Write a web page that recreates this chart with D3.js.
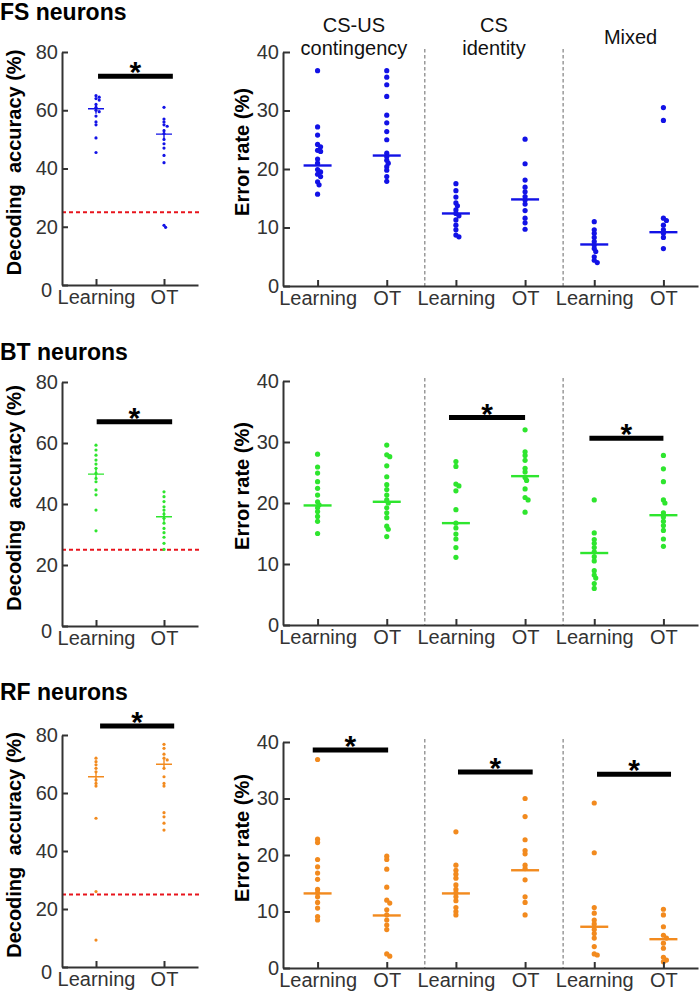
<!DOCTYPE html>
<html>
<head>
<meta charset="utf-8">
<script src="https://cdn.jsdelivr.net/npm/d3@7"></script>
<style>
  body { margin: 0; background: #fff; }
</style>
</head>
<body>
<svg id="chart" width="699" height="999"></svg>
<script>
// --- DATA ---
const conditions = ['Learning', 'OT'];
const groupTitles = [['CS-US', 'contingency'], ['CS', 'identity'], ['Mixed']];
const decodingTicks = [0, 20, 40, 60, 80];
const errorTicks = [0, 10, 20, 30, 40];
const chanceLevel = 25;
const dividers = [2.55, 4.55];

// FS neurons
const fsDecLearning = [65, 64.5, 64, 63.5, 62, 61, 60, 59.5, 58, 56, 55, 50.5, 45.5];
const fsDecOT = [61, 57, 56, 55, 54.5, 53, 52, 50, 48.5, 47, 44.5, 42, 20.5, 19.8];
const fsDecCenter = [60.5, 51.8];
const fsDecSig = [1.03, 2.13, 71.7];
const fsErrCsUs = [
  [36.8, 27.2, 25.8, 24.2, 23.8, 23.2, 23.0, 21.7, 21.0, 19.9, 19.5, 19.1, 18.7, 17.8, 17.3, 15.7],
  [36.8, 35.7, 34.4, 32.4, 29.2, 27.9, 26.4, 25.0, 22.7, 22.1, 21.5, 21.0, 20.4, 19.8, 18.7, 17.9]];
const fsErrIdentity = [
  [17.5, 16.3, 15.2, 14.2, 13.7, 13.0, 12.4, 12.0, 11.3, 10.4, 9.6, 8.7, 8.4],
  [25.1, 20.9, 18.1, 16.9, 16.1, 15.3, 14.7, 14.0, 12.9, 11.6, 10.8, 9.7]];
const fsErrMixed = [
  [11.0, 9.6, 9.0, 8.3, 7.6, 7.0, 6.4, 5.9, 5.0, 4.4, 4.0],
  [30.5, 28.3, 11.6, 11.2, 10.4, 9.6, 9.0, 8.3, 6.4]];
const fsErrCenter = [[20.6, 22.3], [12.4, 14.8], [7.1, 9.2]];
const fsErrSig = [];

// BT neurons
const btDecLearning = [59.3, 57.7, 56, 54.4, 53.1, 51.7, 50.1, 48.4, 47.3, 44.6, 43, 38, 31.2];
const btDecOT = [44, 42.4, 40.8, 39.1, 38, 36.7, 35.3, 33.7, 32, 30.6, 29.1, 27.1, 25.1];
const btDecCenter = [49.8, 35.8];
const btDecSig = [1.01, 2.12, 67];
const btErrCsUs = [
  [28.0, 25.9, 24.9, 23.5, 22.4, 21.3, 20.2, 19.7, 19.2, 18.6, 17.8, 17.0, 15.0],
  [29.5, 27.9, 27.6, 26.1, 24.3, 23.0, 22.2, 21.3, 20.5, 20.0, 19.2, 18.4, 17.6, 16.2, 15.7, 14.5]];
const btErrIdentity = [
  [26.8, 26.0, 23.1, 22.8, 22.0, 18.9, 16.7, 15.9, 14.9, 14.1, 12.7, 11.1],
  [32.0, 28.4, 27.8, 27.0, 25.7, 25.1, 24.2, 23.7, 22.3, 20.9, 20.5, 18.5]];
const btErrMixed = [
  [20.5, 15.1, 14.0, 13.4, 12.7, 12.0, 11.2, 10.5, 8.9, 8.2, 7.7, 6.8, 6.0],
  [27.8, 25.6, 23.5, 20.5, 20.0, 18.4, 17.7, 17.0, 16.3, 15.5, 14.1, 12.9]];
const btErrCenter = [[19.6, 20.2], [16.7, 24.4], [11.8, 18.0]];
const btErrSig = [[2.9, 4.0, 34.0], [4.93, 6.0, 30.6]];

// RF neurons
const rfDecLearning = [72, 70.8, 69.7, 68.5, 67.3, 64.5, 63.3, 62.4, 51.3, 26, 9.3];
const rfDecOT = [76.8, 75.4, 73.4, 72, 71.4, 68.5, 65.6, 63.3, 62.4, 53.2, 51.8, 49.6, 47.2];
const rfDecCenter = [65.6, 69.9];
const rfDecSig = [1.06, 2.15, 83.1];
const rfErrCsUs = [
  [36.9, 22.8, 22.2, 19.2, 17.9, 16.8, 15.7, 13.9, 13.3, 12.6, 11.6, 10.6, 9.1, 8.5],
  [19.8, 19.2, 17.5, 14.3, 12.0, 11.5, 10.3, 9.4, 8.5, 7.6, 6.8, 2.5, 2.1]];
const rfErrIdentity = [
  [24.1, 18.2, 17.3, 16.6, 15.9, 14.7, 13.9, 13.3, 12.6, 11.9, 10.7, 10.0, 9.4],
  [30.0, 26.8, 22.7, 20.8, 20.2, 18.2, 17.6, 15.6, 12.6, 11.6, 9.4]];
const rfErrMixed = [
  [29.2, 20.4, 10.7, 9.7, 8.5, 7.8, 6.8, 6.1, 5.3, 3.8, 2.5, 2.3],
  [10.4, 9.4, 7.3, 5.8, 5.3, 4.4, 3.5, 1.9, 1.4, 1.1]];
const rfErrCenter = [[13.2, 9.3], [13.2, 17.3], [7.3, 5.1]];
const rfErrSig = [[0.93, 2.02, 38.6], [3.03, 4.11, 34.7], [5.04, 6.11, 34.3]];

// --- LAYOUT ---
const FONT = '"Liberation Sans", Arial, Helvetica, sans-serif';
const AXIS = '#333';

const rows = [
  { title: 'FS neurons', color: '#1212e6', titleY: 20,
    dec: { top: 52, bottom: 285, sets: [fsDecLearning, fsDecOT], center: fsDecCenter, sig: fsDecSig },
    err: { top: 52, bottom: 286, groups: [fsErrCsUs, fsErrIdentity, fsErrMixed], center: fsErrCenter, sigs: fsErrSig },
    showGroupTitles: true },
  { title: 'BT neurons', color: '#2ee52e', titleY: 360,
    dec: { top: 382, bottom: 626, sets: [btDecLearning, btDecOT], center: btDecCenter, sig: btDecSig },
    err: { top: 381, bottom: 625, groups: [btErrCsUs, btErrIdentity, btErrMixed], center: btErrCenter, sigs: btErrSig } },
  { title: 'RF neurons', color: '#f28a1e', titleY: 700,
    dec: { top: 735, bottom: 967, sets: [rfDecLearning, rfDecOT], center: rfDecCenter, sig: rfDecSig },
    err: { top: 742, bottom: 968, groups: [rfErrCsUs, rfErrIdentity, rfErrMixed], center: rfErrCenter, sigs: rfErrSig } }
];

const svg = d3.select('#chart');
svg.append('rect').attr('width', 699).attr('height', 999).attr('fill', '#fff');

// small deterministic dodge so overlapping dots spread sideways a little
function dodge(ys, minDist, step) {
  const placed = [];
  return ys.map(y => {
    const cands = [0, step, -step, 2 * step, -2 * step];
    let dx = 0;
    for (const c of cands) {
      if (placed.every(p => Math.hypot(p[0] - c, p[1] - y) >= minDist)) { dx = c; break; }
      dx = c;
    }
    placed.push([dx, y]);
    return dx;
  });
}

function styleAxis(g) {
  g.attr('font-family', FONT).attr('font-size', 20);
  g.select('.domain').attr('stroke', AXIS).attr('stroke-width', 2);
  g.selectAll('.tick line').attr('stroke', AXIS).attr('stroke-width', 2);
  g.selectAll('.tick text').attr('fill', AXIS);
}

function drawSig(x, y, sig) {
  const [x0, x1, v] = sig;
  svg.append('line')
    .attr('x1', x(x0)).attr('x2', x(x1))
    .attr('y1', y(v)).attr('y2', y(v))
    .attr('stroke', '#000').attr('stroke-width', 5);
  svg.append('text')
    .attr('x', (x(x0) + x(x1)) / 2).attr('y', y(v) + 6)
    .attr('text-anchor', 'middle')
    .attr('font-family', FONT).attr('font-weight', 'bold').attr('font-size', 30)
    .text('*');
}

rows.forEach(row => {
  // Row title
  svg.append('text')
    .attr('x', 0).attr('y', row.titleY)
    .attr('font-family', FONT).attr('font-weight', 'bold').attr('font-size', 23)
    .text(row.title);

  // --- Decoding accuracy panel ---
  const d = row.dec;
  const xd = d3.scaleLinear().domain([0.5, 2.5]).range([62, 198]);
  const yd = d3.scaleLinear().domain([0, 80]).range([d.bottom, d.top]);

  // chance level
  svg.append('line')
    .attr('x1', 62).attr('x2', 200)
    .attr('y1', yd(chanceLevel)).attr('y2', yd(chanceLevel))
    .attr('stroke', '#e8141c').attr('stroke-width', 2).attr('stroke-dasharray', '4,3');

  d.sets.forEach((vals, i) => {
    const ys = vals.map(v => yd(v));
    const dx = dodge(ys, 2.4, 1.6);
    svg.append('g').selectAll('circle')
      .data(vals)
      .join('circle')
      .attr('cx', (v, j) => xd(i + 1) + dx[j])
      .attr('cy', v => yd(v))
      .attr('r', 1.6)
      .attr('fill', row.color);
    // center marker (+)
    const cx = xd(i + 1), cy = yd(d.center[i]);
    svg.append('path')
      .attr('d', `M${cx - 8},${cy}H${cx + 8}M${cx},${cy - 5}V${cy + 5}`)
      .attr('stroke', row.color).attr('stroke-width', 1.4).attr('fill', 'none');
  });

  svg.append('g')
    .attr('transform', `translate(0,${d.bottom})`)
    .call(d3.axisBottom(xd).tickValues([1, 2]).tickFormat((t, i) => conditions[i])
      .tickSizeInner(-6).tickSizeOuter(0).tickPadding(5))
    .call(styleAxis);
  const yAxisD = svg.append('g')
    .attr('transform', 'translate(62,0)')
    .call(d3.axisLeft(yd).tickValues(decodingTicks)
      .tickSizeInner(-6).tickSizeOuter(0).tickPadding(4))
    .call(styleAxis);
  // the "0" label sits a little lower-left in the original
  yAxisD.selectAll('.tick text').filter(t => t === 0).attr('dx', -6).attr('dy', '0.55em');

  svg.append('text')
    .attr('transform', `translate(21,${(d.top + d.bottom) / 2 - 6}) rotate(-90)`)
    .attr('text-anchor', 'middle')
    .attr('font-family', FONT).attr('font-weight', 'bold').attr('font-size', 20)
    .attr('xml:space', 'preserve')
    .text('Decoding  accuracy (%)');

  drawSig(xd, yd, d.sig);

  // --- Error rate panel ---
  const e = row.err;
  const xe = d3.scaleLinear().domain([0.5, 6.5]).range([283, 698]);
  const ye = d3.scaleLinear().domain([0, 40]).range([e.bottom, e.top]);

  dividers.forEach(dv => {
    svg.append('line')
      .attr('x1', xe(dv)).attr('x2', xe(dv))
      .attr('y1', e.top - 3).attr('y2', e.bottom)
      .attr('stroke', '#8a8a8a').attr('stroke-width', 1.3).attr('stroke-dasharray', '3.5,2.5');
  });

  e.groups.forEach((pair, gi) => {
    pair.forEach((vals, ci) => {
      const pos = gi * 2 + ci + 1;
      const ys = vals.map(v => ye(v));
      const dx = dodge(ys, 3.2, 1.5);
      svg.append('g').selectAll('circle')
        .data(vals)
        .join('circle')
        .attr('cx', (v, j) => xe(pos) + dx[j])
        .attr('cy', v => ye(v))
        .attr('r', 2.6)
        .attr('fill', row.color);
      const cx = xe(pos), cy = ye(e.center[gi][ci]);
      svg.append('line')
        .attr('x1', cx - 14).attr('x2', cx + 14)
        .attr('y1', cy).attr('y2', cy)
        .attr('stroke', row.color).attr('stroke-width', 2.4);
    });
  });

  svg.append('g')
    .attr('transform', `translate(0,${e.bottom})`)
    .call(d3.axisBottom(xe).tickValues([1, 2, 3, 4, 5, 6]).tickFormat((t, i) => conditions[i % 2])
      .tickSizeInner(-6).tickSizeOuter(0).tickPadding(5))
    .call(styleAxis);
  svg.append('g')
    .attr('transform', 'translate(283,0)')
    .call(d3.axisLeft(ye).tickValues(errorTicks)
      .tickSizeInner(-7).tickSizeOuter(0).tickPadding(4))
    .call(styleAxis);

  svg.append('text')
    .attr('transform', `translate(249,${(e.top + e.bottom) / 2 - 17}) rotate(-90)`)
    .attr('text-anchor', 'middle')
    .attr('font-family', FONT).attr('font-weight', 'bold').attr('font-size', 20)
    .text('Error rate (%)');

  e.sigs.forEach(s => drawSig(xe, ye, s));

  if (row.showGroupTitles) {
    const bounds = [0.5, ...dividers, 6.5];
    groupTitles.forEach((lines, gi) => {
      const cx = (xe(bounds[gi]) + xe(bounds[gi + 1])) / 2;
      const t = svg.append('text')
        .attr('text-anchor', 'middle')
        .attr('font-family', FONT).attr('font-size', 20).attr('fill', '#111');
      const y0 = lines.length === 1 ? 44 : 32;
      lines.forEach((ln, li) => {
        t.append('tspan').attr('x', cx).attr('y', y0 + li * 23).text(ln);
      });
    });
  }
});
</script>
</body>
</html>
